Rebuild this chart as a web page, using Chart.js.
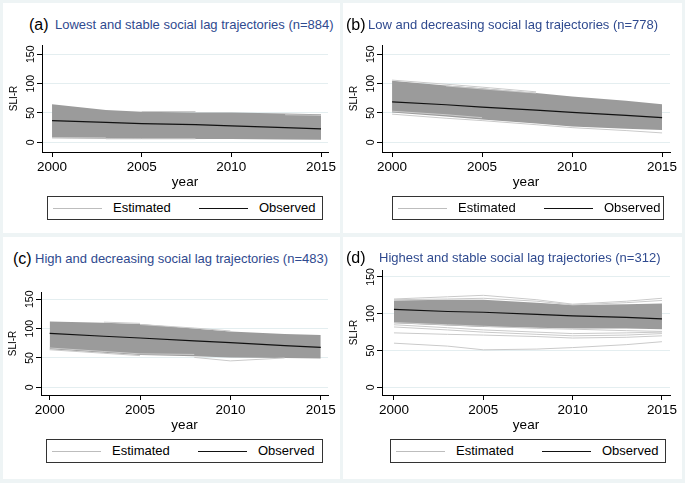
<!DOCTYPE html>
<html lang="en">
<head>
<meta charset="UTF-8" />
<title>Social lag trajectories</title>
<script src="https://cdn.jsdelivr.net/npm/chart.js"></script>
<style>
  body { margin: 0; width: 685px; height: 483px; background: #eef4f5; position: relative; overflow: hidden;
         font-family: "Liberation Sans", Arial, sans-serif; }
  .panel { position: absolute; background: #fff; }
  .tag { position: absolute; font-size: 16px; line-height: 20px; color: #000; white-space: nowrap; }
  .title { position: absolute; font-size: 13px; line-height: 20px; color: #2f4a8f; white-space: nowrap; }
  .legend { position: absolute; border: 1px solid #333; background: #fff; box-sizing: border-box; font-size: 13px; }
  .legend span { position: absolute; top: 50%; transform: translateY(-50%); line-height: 16px; }
  .legend i { position: absolute; top: 50%; height: 0; width: 49px; }
  canvas { position: absolute; }
</style>
</head>
<body>
  <div class="panel" style="left:3px;top:3px;width:337px;height:230px"></div>
  <div class="panel" style="left:343px;top:3px;width:339px;height:230px"></div>
  <div class="panel" style="left:3px;top:237px;width:337px;height:242px"></div>
  <div class="panel" style="left:343px;top:237px;width:339px;height:242px"></div>

  <div id="root"></div>

  <script>
    // shared axes
    const years = [2000, 2003, 2005, 2008, 2010, 2013, 2015];
    const xTicks = [2000, 2005, 2010, 2015];
    const yTicks = [0, 50, 100, 150];

    // (a) lowest and stable
    const aObserved = [37, 34, 32, 30, 28, 25, 23];
    const aBandHigh = [65, 55, 52, 51, 51, 49, 48];
    const aBandLow = [7, 6, 5.5, 5.5, 5.5, 5, 4.5];
    const aEstimated = [
      [null, null, 52.5, 52.5, null, null, null],
      [null, null, null, null, null, 47, 46],
      [8, 7.5, null, null, null, null, null],
      [null, 6, 6, 6, null, null, null]
    ];

    // (b) low and decreasing
    const bObserved = [69, 64, 60, 55, 51, 46, 42];
    const bBandHigh = [105, 97, 92, 84, 78, 71, 65];
    const bBandLow = [51, 44, 39, 32, 27, 23, 21];
    const bEstimated = [
      [106, 99, 94, 86, null, null, null],
      [48, 41, 37, 30, 25, 20, 16],
      [53, 47, 42, null, null, null, null],
      [null, 96, 91, 84, null, null, null]
    ];

    // (c) high and decreasing
    const cObserved = [92, 87, 84, 79, 76, 71, 68];
    const cBandHigh = [112, 110, 108, 100, 95, 91, 89];
    const cBandLow = [65, 59, 55, 53, 51, 50, 49];
    const cEstimated = [
      [null, 111, 109, null, null, null, null],
      [64, 58, 54, null, null, null, null],
      [null, null, null, 51, 45, 50, null],
      [null, null, 107, 101, 96, null, null],
      [67, 61, 57, 56, null, null, null]
    ];

    // (d) highest and stable
    const dObserved = [106, 103, 102, 99, 97, 95, 93];
    const dBandHigh = [118, 119, 119, 115, 112, 113, 114];
    const dBandLow = [87, 84, 82, 81, 80, 80, 79];
    const dEstimated = [
      [120, 123, 125, 119, 113, 117, 121],
      [119, 120, 121, 117, 112, 115, 118],
      [88, 85, 83, 80, 79, 77, 76],
      [85, 81, 78, 75, 73, 74, 75],
      [82, 78, 75, 72, 70, 71, 73],
      [74, 72, 71, 69, 67, 68, 70],
      [60, 56, 51, 52, 54, 58, 62]
    ];

    const panels = [
      { tag: '(a)', title: 'Lowest and stable social lag trajectories (n=884)',
        obs: aObserved, hi: aBandHigh, lo: aBandLow, est: aEstimated,
        area: { l: 42, r: 328, t: 45, b: 152 }, xr: [1999.44, 2015.39], yr: [-16.5, 165.8],
        tagAt: [29, 15], titleAt: [55, 15], legend: [47, 196, 276, 24] },
      { tag: '(b)', title: 'Low and decreasing social lag trajectories (n=778)',
        obs: bObserved, hi: bBandHigh, lo: bBandLow, est: bEstimated,
        area: { l: 382, r: 670, t: 45, b: 152 }, xr: [1999.44, 2015.44], yr: [-16.5, 165.8],
        tagAt: [346, 15], titleAt: [368, 15], legend: [392, 196, 272, 24] },
      { tag: '(c)', title: 'High and decreasing social lag trajectories (n=483)',
        obs: cObserved, hi: cBandHigh, lo: cBandLow, est: cEstimated,
        area: { l: 41, r: 328, t: 292, b: 395 }, xr: [1999.52, 2015.4], yr: [-13.1, 162.4],
        tagAt: [13, 249], titleAt: [35, 249], legend: [46, 439, 277, 24] },
      { tag: '(d)', title: 'Highest and stable social lag trajectories (n=312)',
        obs: dObserved, hi: dBandHigh, lo: dBandLow, est: dEstimated,
        area: { l: 382, r: 670, t: 270, b: 395 }, xr: [1999.33, 2015.45], yr: [-10.4, 159.4],
        tagAt: [346, 248], titleAt: [379, 248], legend: [390, 439, 276, 24] }
    ];

    const FONT = '"Liberation Sans", Arial, sans-serif';
    const pts = arr => years.map((x, i) => ({ x, y: arr[i] }));

    // y tick labels are drawn rotated, centred on the ticks
    const rotatedYLabels = {
      id: 'rotatedYLabels',
      afterDraw(chart) {
        const { ctx, chartArea, scales: { y } } = chart;
        ctx.save();
        ctx.fillStyle = '#000';
        ctx.font = '10.5px ' + FONT;
        ctx.textAlign = 'center';
        ctx.textBaseline = 'middle';
        y.ticks.forEach(t => {
          ctx.save();
          ctx.translate(chartArea.left - 11, y.getPixelForValue(t.value));
          ctx.rotate(-Math.PI / 2);
          ctx.fillText(String(t.value), 0, 0);
          ctx.restore();
        });
        ctx.restore();
      }
    };

    const root = document.getElementById('root');

    panels.forEach(p => {
      const a = p.area;
      const padTop = 8, padRight = 16, yW = 40, xH = 38;
      const cv = document.createElement('canvas');
      const w = (a.r - a.l) + yW + padRight;
      const h = (a.b - a.t) + padTop + xH;
      cv.width = w; cv.height = h;
      cv.style.left = (a.l - yW) + 'px';
      cv.style.top = (a.t - padTop) + 'px';
      cv.style.width = w + 'px'; cv.style.height = h + 'px';
      root.appendChild(cv);

      const tag = document.createElement('div');
      tag.className = 'tag'; tag.textContent = p.tag;
      tag.style.left = p.tagAt[0] + 'px'; tag.style.top = p.tagAt[1] + 'px';
      root.appendChild(tag);
      const title = document.createElement('div');
      title.className = 'title'; title.textContent = p.title;
      title.style.left = p.titleAt[0] + 'px'; title.style.top = p.titleAt[1] + 'px';
      root.appendChild(title);

      const [lx, ly, lw, lh] = p.legend;
      const lg = document.createElement('div');
      lg.className = 'legend';
      lg.style.cssText = `left:${lx}px;top:${ly}px;width:${lw}px;height:${lh}px`;
      lg.innerHTML =
        '<i style="left:5px;border-top:1px solid #bdbdbd"></i><span style="left:65px">Estimated</span>' +
        '<i style="left:151px;border-top:1px solid #111"></i><span style="left:211px">Observed</span>';
      root.appendChild(lg);

      const datasets = [
        { data: pts(p.hi), fill: '+1', backgroundColor: '#9b9b9b', borderWidth: 0, pointRadius: 0, order: 3 },
        { data: pts(p.lo), fill: false, borderWidth: 0, pointRadius: 0, order: 3 }
      ];
      p.est.forEach(s => datasets.push({
        data: pts(s), borderColor: '#cacaca', borderWidth: 1, pointRadius: 0, fill: false, spanGaps: false, order: 2
      }));
      datasets.push({ data: pts(p.obs), borderColor: '#111', borderWidth: 1.2, pointRadius: 0, fill: false, order: 1 });

      new Chart(cv, {
        type: 'line',
        data: { datasets },
        plugins: [rotatedYLabels],
        options: {
          responsive: false,
          animation: false,
          devicePixelRatio: 1,
          layout: { padding: { left: 0, top: padTop, right: padRight, bottom: 0 } },
          plugins: { legend: { display: false }, tooltip: { enabled: false } },
          elements: { line: { tension: 0 } },
          scales: {
            x: {
              type: 'linear', min: p.xr[0], max: p.xr[1],
              afterBuildTicks: s => { s.ticks = xTicks.map(v => ({ value: v })); },
              afterFit: s => { s.height = xH; },
              ticks: { color: '#000', padding: 2, font: { family: FONT, size: 13.5 }, callback: v => String(v), maxRotation: 0 },
              grid: { drawOnChartArea: false, drawTicks: true, tickLength: 5, tickColor: '#000' },
              border: { color: '#000', width: 1 },
              title: { display: true, text: 'year', color: '#000', font: { family: FONT, size: 13.5 }, padding: { top: 0, bottom: 0 } }
            },
            y: {
              type: 'linear', min: p.yr[0], max: p.yr[1],
              afterBuildTicks: s => { s.ticks = yTicks.map(v => ({ value: v })); },
              afterFit: s => { s.width = yW; },
              ticks: { display: false },
              grid: { color: '#e4eef0', lineWidth: 1, drawTicks: true, tickLength: 5, tickColor: '#000' },
              border: { color: '#000', width: 1 },
              title: { display: true, text: 'SLI-R', color: '#000', font: { family: FONT, size: 10 }, padding: { top: 6, bottom: 0 } }
            }
          }
        }
      });
    });
  </script>
</body>
</html>
